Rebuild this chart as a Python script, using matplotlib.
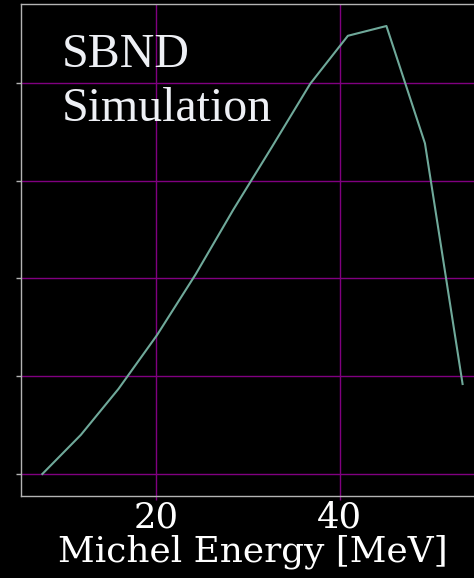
import numpy as np
import matplotlib
matplotlib.use("Agg")
import matplotlib.pyplot as plt
from matplotlib import font_manager

# Michel electron energy spectrum (bin centres, arbitrary normalisation)
energy = [7.6, 11.8, 15.9, 20.1, 24.3, 28.4, 32.6, 36.8, 40.9, 45.1, 49.3, 53.4]
fraction = [0.0, 0.0040, 0.0087, 0.0142, 0.0204, 0.0270, 0.0334, 0.0399,
            0.0448, 0.0458, 0.0338, 0.0092]

W, H = 474, 578
fig = plt.figure(figsize=(W / 100, H / 100), dpi=100, facecolor="black")

# axes run off the right edge of the picture, y labels are off the left edge
left, right, top, bottom = 21.3, 483.6, 3.6, 496.4
ax = fig.add_axes([left / W, (H - bottom) / H, (right - left) / W, (bottom - top) / H])
ax.set_facecolor("black")

ax.plot(energy, fraction, color="#6fa99a", linewidth=1.5)

ax.grid(True, color="#800080", linewidth=1.0)
ax.set_axisbelow(True)
for s in ax.spines.values():
    s.set_color("#b4b4b4")
    s.set_linewidth(1.0)

ax.set_xticks([20, 40])
ax.tick_params(axis="x", colors="#800080", length=3, width=1, pad=0,
               labelcolor="white", labelsize=25.5)
ax.tick_params(axis="y", colors="#b4b4b4", length=3.5, width=1, labelleft=False)
for lab in ax.get_xticklabels():
    lab.set_family("DejaVu Serif")

ax.set_xlabel("Michel Energy [MeV]", color="white", fontsize=25.8,
              family="DejaVu Serif", labelpad=0)

times = font_manager.FontProperties(fname=font_manager.findfont(
    font_manager.FontProperties(family=["Liberation Serif", "Times New Roman", "serif"])))
times.set_size(34.5)
fig.text(62 / W, 1 - 33 / H, "SBND\nSimulation", color="#eef0f5",
         fontproperties=times, ha="left", va="top", linespacing=1.3)

fig.savefig("out.png", dpi=100, facecolor="black")
